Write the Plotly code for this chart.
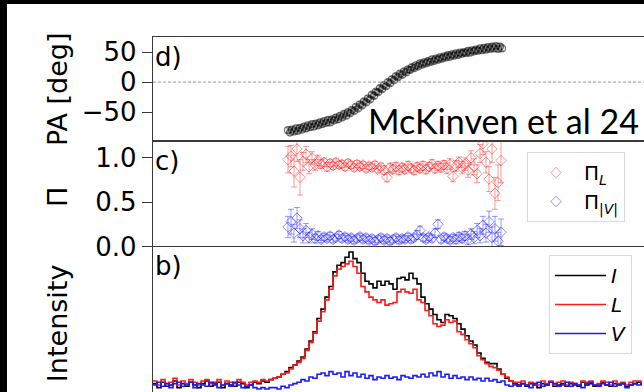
import plotly.graph_objects as go

# ---------------- data ----------------
# Panel d: polarisation position angle [deg]
PA_START = 135
PA_STEP = 2
PA_VALS = [-80, -84, -79, -82, -77, -81, -76, -79, -74, -77, -72, -75, -70, -74, -69, -72,
           -67, -70, -65, -68, -63, -67, -62, -64, -59, -62, -56, -59, -53, -56, -50, -52,
           -46, -48, -41, -44, -37, -39, -32, -34, -27, -29, -21, -23, -16, -17, -10, -12,
           -5, -7, 0, -2, 5, 3, 10, 8, 14, 12, 18, 16, 21, 20, 25, 23, 28, 26, 31, 29,
           33, 31, 35, 33, 38, 35, 39, 37, 41, 39, 43, 41, 45, 42, 46, 44, 48, 45, 49, 47,
           50, 48, 52, 49, 53, 51, 54, 52, 56, 53, 57, 54, 58, 55, 59, 56, 60, 55, 59, 56]
PA_ERR = 4

# Panel c: fractional polarisation
PI_START = 135
PI_STEP = 3
PIL_VALS = [0.98, 1.02, 0.85, 1.10, 0.78, 0.96, 1.04, 0.90, 1.00, 0.92, 0.97, 0.93, 0.95, 0.90,
            0.94, 0.91, 0.95, 0.92, 0.93, 0.90, 0.94, 0.92, 0.89, 0.93, 0.90, 0.92, 0.88, 0.91,
            0.89, 0.92, 0.87, 0.90, 0.86, 0.78, 0.89, 0.87, 0.90, 0.86, 0.89, 0.87, 0.91, 0.88,
            0.86, 0.90, 0.88, 0.91, 0.87, 0.90, 0.93, 0.88, 0.91, 0.89, 0.92, 0.88, 0.93, 0.79,
            0.91, 0.95, 0.89, 0.93, 0.86, 1.00, 0.90, 0.82, 1.05, 1.16, 0.95, 0.76, 1.10, 0.60,
            0.72, 0.97]
PIL_ERR = [0.15, 0.12, 0.18, 0.14, 0.20, 0.10, 0.09, 0.08, 0.07, 0.06, 0.06, 0.05, 0.05, 0.05,
           0.04, 0.04, 0.04, 0.04, 0.04, 0.04, 0.04, 0.04, 0.04, 0.04, 0.04, 0.04, 0.04, 0.04,
           0.04, 0.04, 0.04, 0.04, 0.05, 0.05, 0.05, 0.05, 0.05, 0.05, 0.05, 0.05, 0.05, 0.05,
           0.05, 0.05, 0.05, 0.05, 0.05, 0.05, 0.05, 0.05, 0.05, 0.05, 0.05, 0.06, 0.06, 0.06,
           0.06, 0.06, 0.07, 0.07, 0.08, 0.08, 0.09, 0.10, 0.10, 0.12, 0.12, 0.14, 0.15, 0.18,
           0.20, 0.25]
PIV_VALS = [0.22, 0.28, 0.15, 0.32, 0.20, 0.12, 0.18, 0.10, 0.14, 0.09, 0.12, 0.08, 0.11, 0.09,
            0.12, 0.08, 0.10, 0.13, 0.09, 0.11, 0.08, 0.10, 0.07, 0.09, 0.11, 0.08, 0.10, 0.07,
            0.09, 0.06, 0.08, 0.10, 0.07, 0.09, 0.06, 0.08, 0.10, 0.07, 0.09, 0.08, 0.11, 0.08,
            0.10, 0.13, 0.18, 0.10, 0.08, 0.11, 0.09, 0.15, 0.25, 0.08, 0.11, 0.09, 0.07, 0.10,
            0.08, 0.11, 0.09, 0.12, 0.08, 0.14, 0.10, 0.18, 0.12, 0.24, 0.15, 0.28, 0.10, 0.20,
            0.06, 0.16]
PIV_ERR = [0.12, 0.14, 0.10, 0.12, 0.10, 0.08, 0.08, 0.06, 0.06, 0.05, 0.05, 0.04, 0.04, 0.04,
           0.04, 0.04, 0.04, 0.04, 0.04, 0.04, 0.04, 0.04, 0.04, 0.04, 0.04, 0.04, 0.04, 0.04,
           0.04, 0.04, 0.04, 0.04, 0.04, 0.04, 0.04, 0.04, 0.04, 0.04, 0.04, 0.04, 0.04, 0.04,
           0.04, 0.05, 0.05, 0.04, 0.04, 0.04, 0.04, 0.05, 0.05, 0.04, 0.04, 0.04, 0.04, 0.04,
           0.05, 0.05, 0.05, 0.05, 0.06, 0.06, 0.07, 0.08, 0.08, 0.10, 0.10, 0.12, 0.12, 0.14,
           0.10, 0.15]

# Panel b: normalised intensity profiles (bins)
BIN_START = 0
BIN_WIDTH = 4
I_VALS = [0.01, -0.02, 0.02, -0.01, 0.00, 0.03, -0.02, 0.01, -0.01, 0.02, 0.00, -0.02, 0.01, 0.03,
          -0.01, 0.00, 0.02, -0.02, 0.01, 0.00, -0.01, 0.02, 0.01, -0.02, 0.00, 0.02, 0.01, 0.03,
          0.02, 0.04,
          0.05, 0.06, 0.08, 0.10, 0.13, 0.15, 0.18, 0.21, 0.27, 0.33, 0.40, 0.50, 0.57, 0.66,
          0.74, 0.85, 0.90, 0.92, 0.96, 1.00, 0.95, 0.92, 0.84, 0.78, 0.76, 0.73, 0.78, 0.75,
          0.78, 0.76, 0.72, 0.80, 0.81, 0.79, 0.84, 0.80, 0.76, 0.66, 0.61, 0.57, 0.53, 0.49,
          0.47, 0.53, 0.52, 0.50, 0.46, 0.42, 0.37, 0.33, 0.30, 0.24, 0.20, 0.17, 0.16, 0.16,
          0.12, 0.08, 0.05, 0.03, 0.01,
          0.00, 0.01, -0.01, 0.01, 0.00, -0.02, 0.01, 0.00, 0.02, -0.01, 0.00, 0.01, -0.01, 0.01,
          0.00, -0.01, 0.02, 0.00, 0.01, -0.01, 0.00, 0.02, 0.00, -0.01, 0.01, 0.00, 0.01, -0.01,
          0.00, 0.01, 0.02, 0.00]
L_VALS = [0.03, 0.00, 0.04, 0.01, 0.02, 0.05, 0.00, 0.03, 0.01, 0.04, 0.02, 0.00, 0.03, 0.04,
          0.01, 0.02, 0.04, 0.00, 0.03, 0.02, 0.01, 0.04, 0.02, 0.00, 0.02, 0.03, 0.02, 0.04,
          0.03, 0.04,
          0.05, 0.06, 0.08, 0.09, 0.12, 0.15, 0.17, 0.20, 0.26, 0.32, 0.39, 0.48, 0.55, 0.64,
          0.72, 0.82, 0.87, 0.89, 0.91, 0.93, 0.89, 0.84, 0.74, 0.70, 0.66, 0.64, 0.62, 0.64,
          0.60, 0.61, 0.62, 0.70, 0.72, 0.70, 0.69, 0.72, 0.64, 0.62, 0.56, 0.52, 0.46, 0.44,
          0.45, 0.49, 0.47, 0.48, 0.40, 0.38, 0.34, 0.31, 0.28, 0.22, 0.19, 0.16, 0.14, 0.13,
          0.11, 0.08, 0.06, 0.03, 0.02,
          0.02, 0.03, 0.00, 0.02, 0.01, 0.00, 0.03, 0.01, 0.03, 0.00, 0.02, 0.03, 0.00, 0.02,
          0.01, 0.00, 0.03, 0.02, 0.03, 0.00, 0.01, 0.03, 0.02, 0.00, 0.03, 0.01, 0.02, 0.00,
          0.02, 0.03, 0.03, 0.01]
V_VALS = [0.00, 0.02, -0.01, 0.01, -0.02, 0.01, 0.02, -0.01, 0.00, 0.02, -0.02, 0.01, 0.00, -0.01,
          0.02, 0.01, -0.02, 0.00, 0.01, -0.01, 0.02, 0.00, -0.02, -0.01, 0.00, -0.02, -0.03, -0.02,
          -0.03, -0.02,
          -0.02, -0.03, -0.01, -0.02, 0.00, 0.01, 0.02, 0.04, 0.03, 0.06, 0.05, 0.08, 0.09, 0.07,
          0.10, 0.08, 0.09, 0.06, 0.10, 0.07, 0.09, 0.06, 0.08, 0.05, 0.07, 0.04, 0.06, 0.05,
          0.07, 0.05, 0.06, 0.04, 0.07, 0.06, 0.05, 0.07, 0.06, 0.08, 0.06, 0.09, 0.07, 0.10,
          0.06, 0.08, 0.05, 0.07, 0.05, 0.06, 0.04, 0.06, 0.04, 0.05, 0.03, 0.05, 0.03, 0.04,
          0.02, 0.03, 0.00, -0.01, 0.00,
          -0.01, 0.01, 0.00, -0.02, 0.01, 0.02, -0.01, 0.00, 0.02, 0.01, -0.01, 0.00, 0.02, -0.01,
          0.01, 0.00, -0.02, 0.01, 0.02, 0.00, -0.01, 0.01, 0.00, 0.02, -0.01, 0.00, 0.01, -0.02,
          0.00, 0.01, 0.00, 0.02]

PA_TICKS = [-50, 0, 50]
PI_TICKS = [0.0, 0.5, 1.0]
PI_TICKTEXT = ["0.0", "0.5", "1.0"]

# ---------------- figure ----------------
pa_x = [PA_START + PA_STEP * k for k in range(len(PA_VALS))]
pi_x = [PI_START + PI_STEP * k for k in range(len(PIL_VALS))]
bins = [BIN_START + BIN_WIDTH * k for k in range(len(I_VALS))]

FONT = "DejaVu Sans"
AX = "#3a3a3a"

fig = go.Figure()

fig.add_trace(go.Scatter(
    x=pa_x, y=PA_VALS, mode="markers", xaxis="x", yaxis="y", showlegend=False,
    marker=dict(symbol="circle-open", size=7, color="rgba(0,0,0,0.55)", line=dict(width=1.2)),
    error_y=dict(type="constant", value=PA_ERR, color="rgba(0,0,0,0.5)", thickness=1.2, width=2),
))

fig.add_trace(go.Scatter(
    x=pi_x, y=PIL_VALS, mode="markers", xaxis="x2", yaxis="y2", name="Π<sub><i>L</i></sub>",
    legend="legend",
    marker=dict(symbol="diamond-open", size=8, color="rgba(255,0,0,0.45)", line=dict(width=1)),
    error_y=dict(type="data", array=PIL_ERR, color="rgba(255,0,0,0.4)", thickness=1, width=3),
))
fig.add_trace(go.Scatter(
    x=pi_x, y=PIV_VALS, mode="markers", xaxis="x2", yaxis="y2", name="Π<sub>|<i>V</i>|</sub>",
    legend="legend",
    marker=dict(symbol="diamond-open", size=8, color="rgba(0,0,255,0.45)", line=dict(width=1)),
    error_y=dict(type="data", array=PIV_ERR, color="rgba(0,0,255,0.4)", thickness=1, width=3),
))

for vals, name, col in [(I_VALS, "<i>I</i>", "black"), (L_VALS, "<i>L</i>", "#ff1a1a"),
                        (V_VALS, "<i>V</i>", "#1a1aff")]:
    fig.add_trace(go.Scatter(
        x=bins, y=vals, mode="lines", line=dict(shape="hv", color=col, width=1.6),
        xaxis="x3", yaxis="y3", name=name, legend="legend2",
    ))

common_x = dict(range=[0, 491], showticklabels=False, ticks="", showgrid=False, zeroline=False,
                automargin=False)
common_y = dict(ticks="outside", ticklen=10, tickwidth=1.3, tickcolor=AX, showline=True,
                linecolor=AX, linewidth=1.3, showgrid=False, zeroline=False, automargin=False,
                tickfont=dict(family=FONT, size=26, color="black"))

D_DOM = [0.707, 1.0]
C_DOM = [0.4099, 0.707]
B_DOM = [0.0, 0.4099]

fig.update_layout(
    width=644, height=392,
    margin=dict(l=153, r=0, t=37, b=0, autoexpand=False),
    paper_bgcolor="white", plot_bgcolor="white",
    xaxis=dict(**common_x, domain=[0, 1], anchor="y", showline=True, mirror=True,
               linecolor=AX, linewidth=1.3),
    xaxis2=dict(**common_x, domain=[0, 1], anchor="y2", matches="x", showline=True, mirror=True,
                linecolor=AX, linewidth=1.3),
    xaxis3=dict(**common_x, domain=[0, 1], anchor="y3", matches="x", showline=False),
    yaxis=dict(**common_y, domain=D_DOM, range=[-98, 75], tickvals=PA_TICKS),
    yaxis2=dict(**common_y, domain=C_DOM, range=[0, 1.19], tickvals=PI_TICKS,
                ticktext=PI_TICKTEXT),
    yaxis3=dict(domain=B_DOM, range=[-0.053, 1.041], showticklabels=False, ticks="",
                showline=True, linecolor=AX, linewidth=1.3, showgrid=False, zeroline=False,
                automargin=False),
    legend=dict(x=0.7617, y=0.676, xanchor="left", yanchor="top", itemwidth=46,
                bordercolor="#d9d9d9", borderwidth=1, bgcolor="rgba(255,255,255,0.85)",
                font=dict(family=FONT, size=20, color="black")),
    legend2=dict(x=0.8065, y=0.386, xanchor="left", yanchor="top", itemwidth=51,
                 bordercolor="#d9d9d9", borderwidth=1, bgcolor="rgba(255,255,255,0.85)",
                 font=dict(family=FONT, size=20, color="black")),
)

# zero line in PA panel
fig.add_shape(type="line", xref="x domain", yref="y", x0=0, x1=1, y0=0, y1=0,
              line=dict(color="#9a9a9a", width=1, dash="3px,2px"))

# panel labels
for lab, ytop in [("d)", 1.0), ("c)", 0.707), ("b)", 0.4099)]:
    fig.add_annotation(text=lab, xref="paper", yref="paper", x=0.0, y=ytop - 0.008,
                       xanchor="left", yanchor="top", showarrow=False,
                       font=dict(family=FONT, size=26, color="black"))

# axis titles
for txt, yc in [("PA [deg]", 0.8535), ("Π", 0.549), ("Intensity", 0.194)]:
    fig.add_annotation(text=txt, xref="paper", yref="paper", x=-0.1955, y=yc,
                       xanchor="center", yanchor="middle", textangle=-90, showarrow=False,
                       font=dict(family=FONT, size=27, color="black"))

# credit text
fig.add_annotation(text="McKinven et al 24", xref="paper", yref="paper", x=0.434, y=0.766,
                   xanchor="left", yanchor="middle", showarrow=False,
                   font=dict(family="Lato", size=34, color="black"))

# black frame from the cropped slide
fig.add_shape(type="rect", xref="paper", yref="paper", x0=-0.32, x1=1.01, y0=1.093, y1=1.11,
              fillcolor="black", line=dict(width=0), layer="above")
fig.add_shape(type="rect", xref="paper", yref="paper", x0=-0.32, x1=-0.2974, y0=-0.01, y1=1.11,
              fillcolor="black", line=dict(width=0), layer="above")

fig.write_html("out.html", config={"displayModeBar": False},
               post_script="document.body.style.margin='0';document.body.style.overflow='hidden';")
